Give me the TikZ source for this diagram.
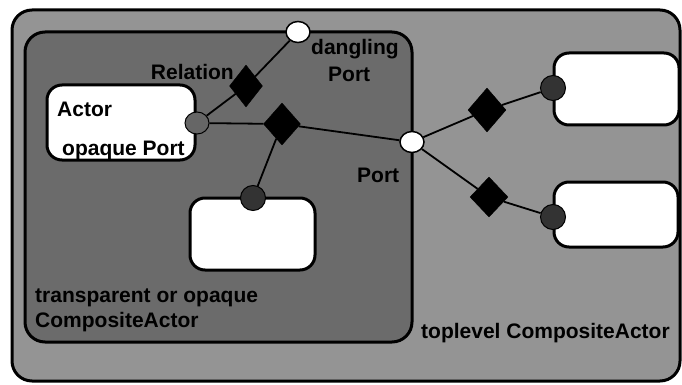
\documentclass[tikz,border=0pt]{standalone}
\usepackage{fontspec}
\setmainfont{Liberation Sans}
\usetikzlibrary{shapes.geometric}
\begin{document}
\begin{tikzpicture}[x=1pt,y=-1pt,
  frame/.style={line width=3pt, rounded corners=20pt},
  actorbox/.style={draw, line width=3pt, fill=white, rounded corners=15pt},
  rel/.style={diamond, fill=black, draw=black, inner sep=0pt, minimum width=35pt, minimum height=42pt},
  openport/.style={ellipse, draw=black, line width=1.5pt, fill=white, inner sep=0pt, minimum width=24pt, minimum height=21pt},
  darkport/.style={circle, draw=black, line width=1pt, fill=black!80, inner sep=0pt, minimum size=25pt},
  greyport/.style={ellipse, draw=black, line width=1pt, fill=black!60, inner sep=0pt, minimum width=24pt, minimum height=22pt},
  conn/.style={line width=1.8pt},
  lbl/.style={font=\bfseries\fontsize{21}{25}\selectfont, inner sep=0pt}
]
\useasboundingbox (0,0) rectangle (682,385);
\fill[white] (0,0) rectangle (682,385);
% outer toplevel
\draw[frame, fill=black!42] (12,10) rectangle (680,381);
% inner composite
\draw[frame, fill=black!58] (25,32) rectangle (412,342);
% actor boxes
\draw[actorbox] (47,85) rectangle (195,160);
\draw[actorbox] (190,198) rectangle (315,270);
\draw[actorbox] (554,53) rectangle (679,125);
\draw[actorbox] (554,182) rectangle (678,247);
% ports
\node[greyport] (op) at (197,123) {};
\node[openport] (dp) at (298,32) {};
\node[openport] (tp) at (412,142) {};
\node[darkport] (bp) at (253,198) {};
\node[darkport] (rp1) at (553,88) {};
\node[darkport] (rp2) at (553,217) {};
% relations
\node[rel, minimum width=33pt] (r1) at (246,86) {};
\node[rel, minimum width=37pt] (r2) at (282,124) {};
\node[rel, minimum width=38pt, minimum height=44pt] (r3) at (487,110) {};
\node[rel, minimum width=38pt, minimum height=40pt] (r4) at (489,197) {};
% connectors
\draw[conn] (op) -- (r1) -- (dp);
\draw[conn] (op) -- (r2);
\draw[conn] (r2) -- (tp);
\draw[conn] (r2) -- (bp);
\draw[conn] (tp) -- (r3) -- (rp1);
\draw[conn] (tp) -- (r4) -- (rp2);
% labels
\node[lbl, anchor=base west] (tactor) at (57,117) {Actor};
\node[lbl, anchor=base west] (topq) at (62,155) {opaque Port};
\node[lbl, anchor=base east] (trel) at (234,80) {Relation};
\node[lbl, anchor=base west] (tdang) at (311,55) {dangling};
\node[lbl, anchor=base west] (tdport) at (328,82) {Port};
\node[lbl, anchor=base west] (tport) at (357,182) {Port};
\node[lbl, anchor=base west] (ttrans) at (35,302) {transparent or opaque};
\node[lbl, anchor=base west] (tcomp) at (35,327) {CompositeActor};
\node[lbl, anchor=base west] (ttop) at (421,338) {toplevel CompositeActor};
\end{tikzpicture}
\end{document}
